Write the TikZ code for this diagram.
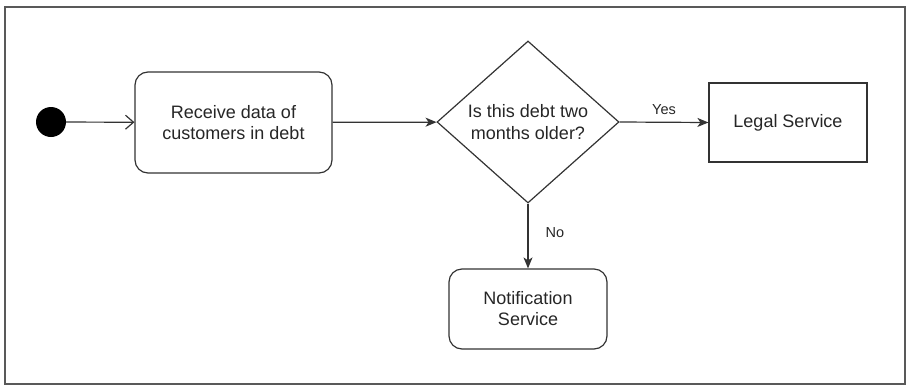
\documentclass[tikz,border=0pt]{standalone}
\usepackage{fontspec}
\setmainfont{Liberation Sans}
\usetikzlibrary{shapes.geometric,arrows.meta}
\begin{document}
\begin{tikzpicture}[x=1pt,y=-1pt,
  every node/.style={text=black!85},
  line/.style={draw=black!80,line width=1.2pt},
  actbox/.style={line,rectangle,rounded corners=13pt,minimum width=197pt,minimum height=101pt,align=center,font=\fontsize{18}{21}\selectfont,inner sep=0pt},
  svcbox/.style={line,rectangle,minimum width=158pt,minimum height=79pt,align=center,font=\fontsize{18}{21}\selectfont,inner sep=0pt},
  decision/.style={line,diamond,minimum width=182pt,minimum height=162pt,align=center,font=\fontsize{18}{21.5}\selectfont,inner sep=0pt},
  flow/.style={line,-{Stealth[length=11pt,width=9pt,inset=3pt]}},
  openflow/.style={line,-{Straight Barb[length=8pt,width=14pt]}},
  lbl/.style={font=\fontsize{14.5}{17}\selectfont,inner sep=0pt}
]
\useasboundingbox (0,0) rectangle (907,386);
\draw[draw=black!65,line width=1.5pt] (5,7) rectangle (905,384);
\node[circle,fill=black,minimum size=30pt,inner sep=0pt] (start) at (51,122) {};
\node[actbox] (recv) at (233.5,122.5) {Receive data of\\customers in debt};
\node[decision] (dec) at (528,122) {Is this debt two\\months older?};
\node[svcbox] (legal) at (788,122.5) {Legal Service};
\node[actbox,minimum width=158pt,minimum height=80pt] (notif) at (528,309) {Notification\\Service};
\draw[openflow] (start) -- (recv);
\draw[flow] (recv) -- (dec);
\draw[flow] (dec.east) -- node[lbl,above=7pt] (yes) {Yes} (legal.west);
\draw[flow] (dec.south) -- node[lbl,right=17pt,pos=0.45] (no) {No} (notif.north);
\end{tikzpicture}
\end{document}
